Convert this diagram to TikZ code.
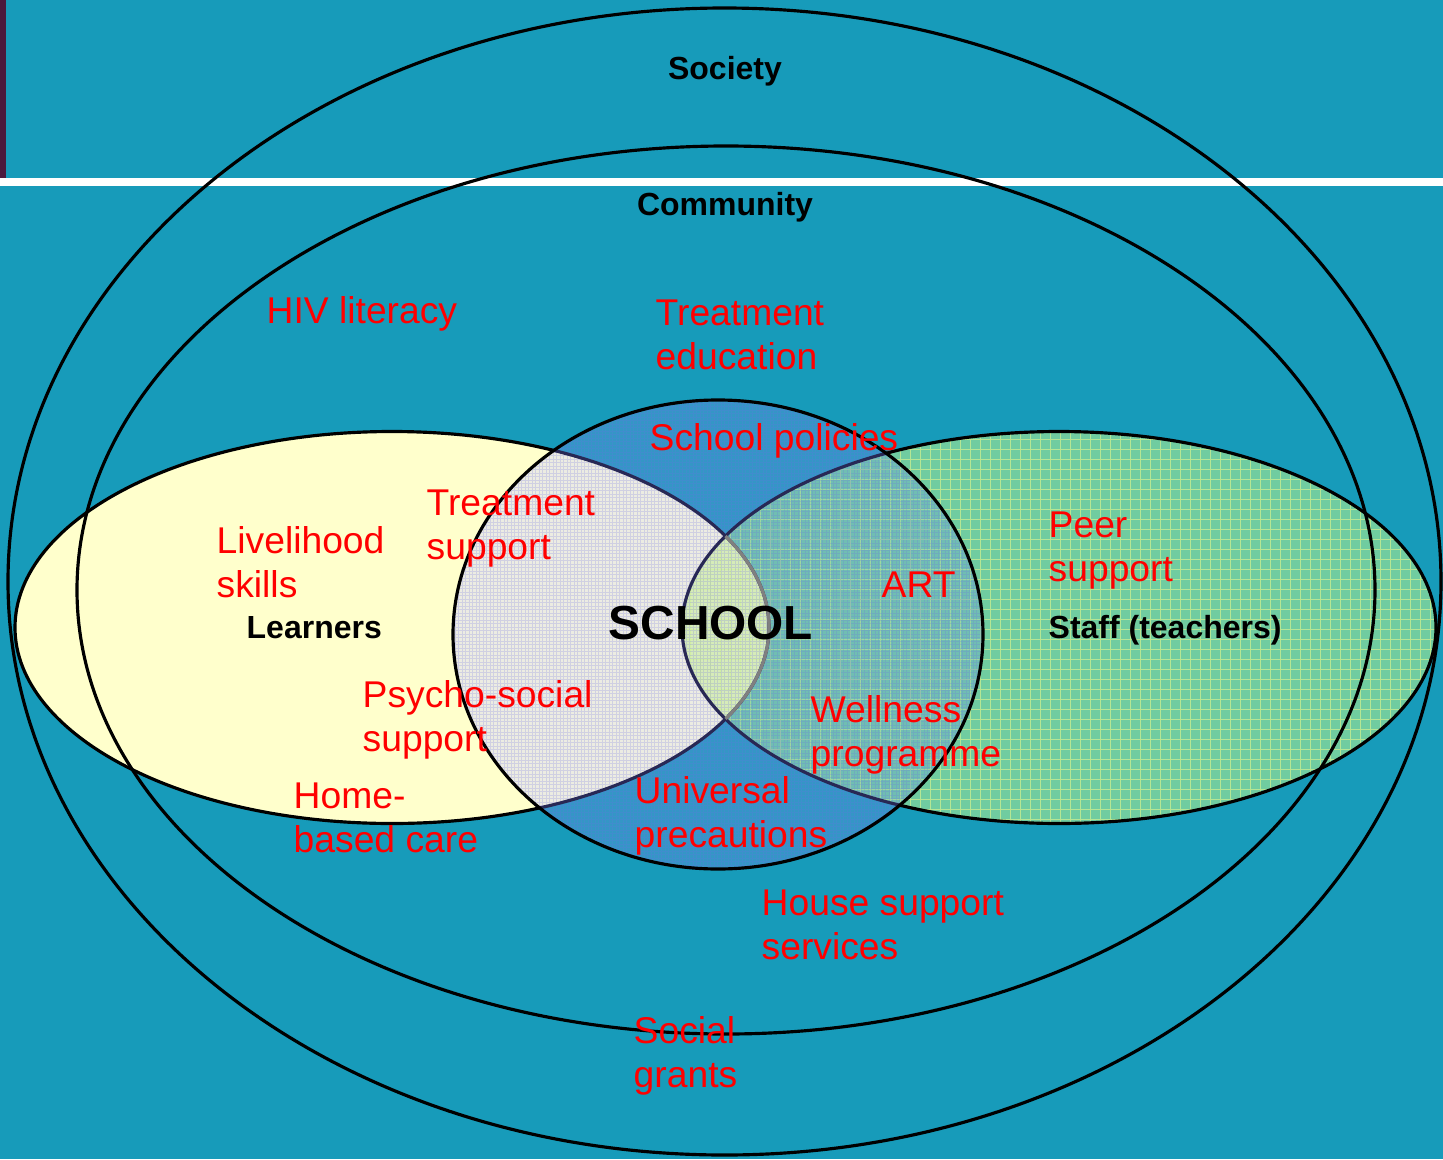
\documentclass[tikz,border=0pt]{standalone}
\usepackage{fontspec}
\setmainfont{Liberation Sans}
\definecolor{slideTeal}{RGB}{23,155,186}
\definecolor{barPurple}{RGB}{75,26,61}
\definecolor{learnerYellow}{RGB}{255,255,204}
\definecolor{staffGreen}{RGB}{112,204,160}
\definecolor{gridGreen}{RGB}{205,240,145}
\definecolor{schoolBlue}{RGB}{52,150,198}
\definecolor{mixLavender}{RGB}{236,236,226}
\definecolor{mixTeal}{RGB}{112,190,178}
\definecolor{mixLime}{RGB}{214,236,184}
\definecolor{dotBlue}{RGB}{110,110,230}
\definecolor{lineNavy}{RGB}{40,40,85}
\definecolor{labelRed}{RGB}{255,0,0}
\usepackage{tikz}

% the five ellipses
\newcommand{\societyshape}{(7.245,5.775) ellipse [x radius=7.165cm, y radius=5.735cm]}
\newcommand{\communityshape}{(7.26,5.69) ellipse [x radius=6.49cm, y radius=4.44cm]}
\newcommand{\learnersshape}{(3.92,5.315) ellipse [x radius=3.77cm, y radius=1.96cm]}
\newcommand{\staffshape}{(10.59,5.315) ellipse [x radius=3.77cm, y radius=1.96cm]}
\newcommand{\schoolshape}{(7.18,5.245) ellipse [x radius=2.65cm, y radius=2.345cm]}

\begin{document}
\begin{tikzpicture}[
    ring/.style={draw=black, line width=0.9pt},
    hatch/.style={gridGreen, line width=0.25pt, opacity=0.75},
    fine/.style={dotBlue, line width=0.2pt, opacity=0.22},
    grp/.style={font=\bfseries\fontsize{9.1}{11}\selectfont, inner sep=0pt, anchor=base},
    item/.style={text=labelRed, font=\fontsize{10.6}{12.66}\selectfont,
                 align=left, inner sep=0pt, anchor=base west}
  ]
    % Slide background
    \fill[slideTeal] (0,0) rectangle (14.43,11.59);
    \fill[barPurple] (0,9.81) rectangle (0.06,11.59);
    \fill[white] (0,9.73) rectangle (14.43,9.81);
    \useasboundingbox (0,0) rectangle (14.43,11.59);

    % Learners
    \fill[learnerYellow] \learnersshape;
    \draw[ring] \learnersshape;

    % Staff
    \fill[staffGreen] \staffshape;
    \begin{scope}
      \clip \staffshape;
      \draw[hatch] (6.8,3.3) grid[step=0.1] (14.4,7.3);
    \end{scope}
    \draw[ring] \staffshape;

    % School and its overlaps
    \begin{scope}
      \clip \schoolshape;
      \fill[schoolBlue] \schoolshape;
      \fill[mixLavender] \learnersshape;
      \fill[mixTeal] \staffshape;
      \begin{scope}
        \clip \learnersshape;
        \fill[mixLime] \staffshape;
      \end{scope}
      \begin{scope}
        \clip \staffshape;
        \draw[hatch, opacity=0.5] (4.4,2.8) grid[step=0.1] (9.9,7.6);
      \end{scope}
      \draw[fine] (4.4,2.8) grid[step=0.035] (9.9,7.6);
      \draw[ring, draw=lineNavy] \learnersshape;
      \draw[ring, draw=lineNavy] \staffshape;
      \begin{scope}
        \clip \staffshape;
        \draw[ring, draw=gray] \learnersshape;
      \end{scope}
    \end{scope}
    \draw[ring] \schoolshape;

    % Society and community
    \draw[ring] \societyshape;
    \draw[ring] \communityshape;

    % Group labels
    \node[grp] (society) at (7.25,10.80) {Society};
    \node[grp] (community) at (7.25,9.44) {Community};
    \node[grp, anchor=base west] (learners) at (2.46,5.21) {Learners};
    \node[grp, anchor=base west] (staff) at (10.48,5.21) {Staff (teachers)};
    \node[grp, anchor=base west, font=\bfseries\fontsize{13.6}{16}\selectfont] (school) at (6.08,5.20) {SCHOOL};

    % Support items (placed by the baseline of their last line)
    \node[item] (hiv) at (2.66,8.36) {HIV literacy};
    \node[item] (treatedu) at (6.55,7.895) {Treatment\\education};
    \node[item] (policies) at (6.49,7.09) {School policies};
    \node[item] (treatsup) at (4.26,5.995) {Treatment\\support};
    \node[item] (livelihood) at (2.16,5.615) {Livelihood\\skills};
    \node[item] (art) at (8.81,5.62) {ART};
    \node[item] (peer) at (10.48,5.775) {Peer\\support};
    \node[item] (psycho) at (3.62,4.075) {Psycho-social\\support};
    \node[item] (wellness) at (8.10,3.925) {Wellness\\programme};
    \node[item] (homecare) at (2.93,3.065) {Home-\\based care};
    \node[item] (precautions) at (6.34,3.115) {Universal\\precautions};
    \node[item] (house) at (7.61,1.995) {House support\\services};
    \node[item] (grants) at (6.33,0.715) {Social\\grants};
  \end{tikzpicture}
\end{document}
